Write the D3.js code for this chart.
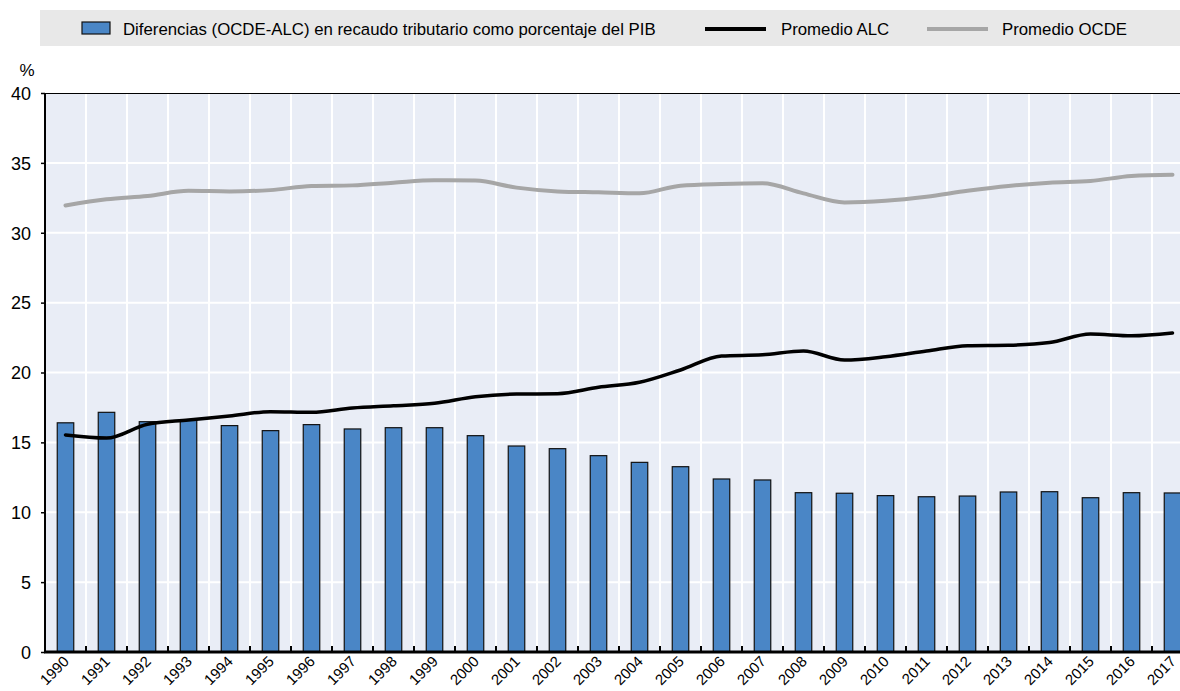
<!DOCTYPE html>
<html>
<head>
<meta charset="utf-8">
<script src="https://cdn.jsdelivr.net/npm/d3@7"></script>
<style>
  body { margin: 0; background: #fff; overflow: hidden; }
  svg text { font-family: "Liberation Sans", Arial, sans-serif; fill: #000; }
</style>
</head>
<body>
<div id="chart"></div>
<script>
// years on the x axis
var years = ["1990","1991","1992","1993","1994","1995","1996","1997","1998","1999",
             "2000","2001","2002","2003","2004","2005","2006","2007","2008","2009",
             "2010","2011","2012","2013","2014","2015","2016","2017"];

// gap OECD - LAC, % of GDP (bars)
var diferencias = [16.4, 17.15, 16.48, 16.6, 16.2, 15.84, 16.27, 15.96, 16.05, 16.05,
                   15.48, 14.74, 14.55, 14.05, 13.57, 13.26, 12.38, 12.31, 11.4, 11.36,
                   11.19, 11.11, 11.16, 11.45, 11.47, 11.04, 11.4, 11.38];

// LAC average
var promedioALC = [15.53, 15.31, 16.3, 16.6, 16.89, 17.2, 17.15, 17.46, 17.62, 17.8,
                   18.27, 18.46, 18.48, 18.94, 19.3, 20.18, 21.18, 21.27, 21.54, 20.89,
                   21.13, 21.54, 21.92, 21.95, 22.14, 22.75, 22.63, 22.83];

// OECD average
var promedioOCDE = [31.95, 32.39, 32.63, 33.0, 32.96, 33.05, 33.35, 33.39, 33.58, 33.75,
                    33.73, 33.23, 32.96, 32.89, 32.82, 33.37, 33.49, 33.54, 32.82, 32.17,
                    32.29, 32.58, 33.0, 33.35, 33.58, 33.7, 34.06, 34.15];

var yTicks = [0, 5, 10, 15, 20, 25, 30, 35, 40];

var W = 1180, H = 691;
var mLeft = 45, mTop = 93, mBottom = 652;
var step = 41;

var svg = d3.select("#chart").append("svg")
    .attr("width", W)
    .attr("height", H);

var x = d3.scaleBand()
    .domain(years)
    .range([mLeft, mLeft + step * years.length])
    .paddingInner(0)
    .paddingOuter(0);

var y = d3.scaleLinear()
    .domain([0, 40])
    .range([mBottom, mTop]);

var xEnd = x.range()[1];

// plot background
svg.append("rect")
    .attr("x", mLeft).attr("y", mTop)
    .attr("width", xEnd - mLeft)
    .attr("height", mBottom - mTop)
    .style("fill", "#e9edf6");

// horizontal grid
svg.append("g").selectAll("line").data(yTicks.slice(1)).enter().append("line")
    .attr("x1", mLeft).attr("x2", xEnd)
    .attr("y1", function (d) { return y(d); })
    .attr("y2", function (d) { return y(d); })
    .style("stroke", "#fff").style("stroke-width", 2);

// vertical grid at band boundaries
svg.append("g").selectAll("line").data(years.slice(1)).enter().append("line")
    .attr("x1", function (d) { return x(d); })
    .attr("x2", function (d) { return x(d); })
    .attr("y1", mTop).attr("y2", mBottom)
    .style("stroke", "#fff").style("stroke-width", 2);

// top border
svg.append("line")
    .attr("x1", mLeft).attr("x2", xEnd)
    .attr("y1", mTop + 0.5).attr("y2", mTop + 0.5)
    .style("stroke", "#000").style("stroke-width", 1);

// bars
var barW = 16.5;
svg.append("g").selectAll("rect").data(diferencias).enter().append("rect")
    .attr("x", function (d, i) { return x(years[i]) + x.bandwidth() / 2 - barW / 2; })
    .attr("y", function (d) { return y(d); })
    .attr("width", barW)
    .attr("height", function (d) { return mBottom - y(d); })
    .style("fill", "#4a86c6")
    .style("stroke", "#111")
    .style("stroke-width", 1.2);

var line = d3.line()
    .curve(d3.curveMonotoneX)
    .x(function (d, i) { return x(years[i]) + x.bandwidth() / 2; })
    .y(function (d) { return y(d); });

svg.append("path").attr("d", line(promedioOCDE))
    .style("fill", "none").style("stroke", "#a6a6a6")
    .style("stroke-width", 4).style("stroke-linecap", "round");

svg.append("path").attr("d", line(promedioALC))
    .style("fill", "none").style("stroke", "#000")
    .style("stroke-width", 3.5).style("stroke-linecap", "round");

// y axis
var yAxis = svg.append("g")
    .attr("transform", "translate(" + mLeft + ",0)")
    .call(d3.axisLeft(y).tickValues(yTicks).tickSize(4).tickPadding(10));
yAxis.select(".domain").remove();
yAxis.selectAll("line").style("stroke", "#000").style("stroke-width", 1.5);
yAxis.selectAll("text")
    .style("font-size", "18px")
    .style("font-family", "'Liberation Sans', Arial, sans-serif")
    .attr("dy", "0.35em");

svg.append("line")
    .attr("x1", mLeft).attr("x2", mLeft)
    .attr("y1", mTop).attr("y2", mBottom)
    .style("stroke", "#000").style("stroke-width", 2);

// x axis
var xAxis = svg.append("g")
    .attr("transform", "translate(0," + mBottom + ")");
xAxis.selectAll("line").data(years.slice(1)).enter().append("line")
    .attr("x1", function (d) { return x(d); })
    .attr("x2", function (d) { return x(d); })
    .attr("y1", 0).attr("y2", -6)
    .style("stroke", "#000").style("stroke-width", 2);
xAxis.selectAll("text").data(years).enter().append("text")
    .attr("transform", function (d) {
        return "translate(" + (x(d) + x.bandwidth() / 2 - 3) + ",3) rotate(-45)";
    })
    .attr("text-anchor", "end")
    .attr("dy", "0.7em")
    .style("font-size", "15px")
    .text(function (d) { return d; });

svg.append("line")
    .attr("x1", mLeft - 1).attr("x2", xEnd)
    .attr("y1", mBottom).attr("y2", mBottom)
    .style("stroke", "#000").style("stroke-width", 3);

svg.append("text")
    .attr("x", 27).attr("y", 76)
    .attr("text-anchor", "middle")
    .style("font-size", "17px")
    .text("%");

// legend
var legend = svg.append("g");
legend.append("rect")
    .attr("x", 40).attr("y", 10)
    .attr("width", W - 40).attr("height", 36)
    .style("fill", "#e8e8e8");
legend.append("rect")
    .attr("x", 82).attr("y", 22)
    .attr("width", 28).attr("height", 12)
    .style("fill", "#4a86c6").style("stroke", "#111").style("stroke-width", 1.2);
legend.append("text")
    .attr("x", 123).attr("y", 35)
    .style("font-size", "16.8px")
    .text("Diferencias (OCDE-ALC) en recaudo tributario como porcentaje del PIB");
legend.append("line")
    .attr("x1", 705).attr("x2", 766).attr("y1", 29).attr("y2", 29)
    .style("stroke", "#000").style("stroke-width", 4);
legend.append("text")
    .attr("x", 781).attr("y", 35)
    .style("font-size", "16.8px")
    .text("Promedio ALC");
legend.append("line")
    .attr("x1", 927).attr("x2", 988).attr("y1", 29).attr("y2", 29)
    .style("stroke", "#a6a6a6").style("stroke-width", 4);
legend.append("text")
    .attr("x", 1002).attr("y", 35)
    .style("font-size", "16.8px")
    .text("Promedio OCDE");
</script>
</body>
</html>
